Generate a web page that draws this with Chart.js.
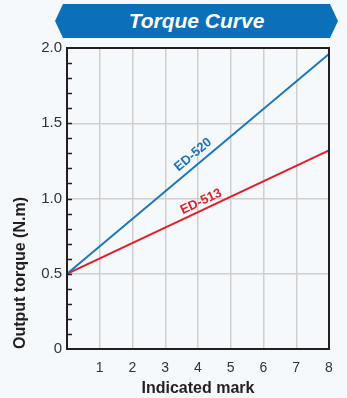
<!DOCTYPE html>
<html>
<head>
<meta charset="utf-8">
<script src="https://cdn.jsdelivr.net/npm/chart.js@4"></script>
<style>
  html, body { margin: 0; padding: 0; background: #f5f9fc; }
  #wrap { position: relative; width: 347px; height: 398px; }
  #banner {
    position: absolute; left: 55px; top: 4px; width: 283px; height: 34px;
    background: #0b6fba;
    clip-path: polygon(8px 0, 275px 0, 283px 17px, 275px 34px, 8px 34px, 0 17px);
    color: #fff; font: italic bold 21px "Liberation Sans", Arial, sans-serif;
    text-align: center; line-height: 34px;
  }
  canvas { position: absolute; left: 0; top: 0; }
</style>
</head>
<body>
<div id="wrap">
  <div id="banner">Torque Curve</div>
  <canvas id="myChart" width="347" height="398"></canvas>
</div>
<script>
// valeurs
const markX = [0, 8];
const ed520 = [0.5, 1.96];
const ed513 = [0.5, 1.32];
const yLabels = ['0', '0.5', '1.0', '1.5', '2.0'];
const lineNames = ['ED-520', 'ED-513'];

const fontFamily = '"Liberation Sans", Arial, sans-serif';

// petits traits de graduation à l'intérieur de l'axe Y + étiquettes des courbes
const extrasPlugin = {
  id: 'extras',
  afterDraw(chart) {
    const ctx = chart.ctx;
    const x = chart.scales.x, y = chart.scales.y;
    const area = chart.chartArea;
    ctx.save();
    // bordure noire
    ctx.strokeStyle = '#231f20';
    ctx.lineWidth = 2;
    ctx.strokeRect(area.left, area.top, area.right - area.left, area.bottom - area.top);
    // minor ticks
    ctx.lineWidth = 1.5;
    for (let i = 1; i < 20; i++) {
      const py = Math.round(y.getPixelForValue(i / 10)) + 0.5;
      ctx.beginPath();
      ctx.moveTo(area.left, py);
      ctx.lineTo(area.left + 5, py);
      ctx.stroke();
    }
    // étiquettes le long des lignes
    const sets = [ed520, ed513];
    const colors = ['#1a75bc', '#e3202a'];
    const at = [4.05, 4.2];
    const offs = [10, 8];
    sets.forEach((d, k) => {
      const x0 = x.getPixelForValue(markX[0]), y0 = y.getPixelForValue(d[0]);
      const x1 = x.getPixelForValue(markX[1]), y1 = y.getPixelForValue(d[1]);
      const ang = Math.atan2(y1 - y0, x1 - x0);
      const v = d[0] + (d[1] - d[0]) * (at[k] - markX[0]) / (markX[1] - markX[0]);
      const px = x.getPixelForValue(at[k]), py = y.getPixelForValue(v);
      ctx.save();
      ctx.translate(px + Math.sin(ang) * offs[k], py - Math.cos(ang) * offs[k]);
      ctx.rotate(ang);
      ctx.fillStyle = colors[k];
      ctx.font = 'bold 13px ' + fontFamily;
      ctx.textAlign = 'center';
      ctx.textBaseline = 'middle';
      ctx.fillText(lineNames[k], 0, 0);
      ctx.restore();
    });
    ctx.restore();
  }
};

const ctx = document.getElementById('myChart').getContext('2d');
new Chart(ctx, {
  type: 'line',
  data: {
    datasets: [
      {
        label: lineNames[0],
        data: markX.map((m, i) => ({ x: m, y: ed520[i] })),
        borderColor: '#1a75bc',
        borderWidth: 2,
        pointRadius: 0
      },
      {
        label: lineNames[1],
        data: markX.map((m, i) => ({ x: m, y: ed513[i] })),
        borderColor: '#e3202a',
        borderWidth: 2,
        pointRadius: 0
      }
    ]
  },
  options: {
    responsive: false,
    animation: false,
    layout: { padding: { left: 0, top: 48, right: 18, bottom: 0 } },
    plugins: { legend: { display: false }, tooltip: { enabled: false } },
    scales: {
      x: {
        type: 'linear',
        min: 0,
        max: 8,
        afterFit: s => { s.height = 49; },
        border: { display: false },
        grid: {
          color: c => (c.tick.value > 0 && c.tick.value < 8) ? '#cfcfcf' : 'transparent',
          lineWidth: 1.5,
          drawTicks: false
        },
        ticks: {
          stepSize: 1,
          padding: 11,
          color: '#333',
          font: { family: fontFamily, size: 14 },
          callback: v => v === 0 ? '' : String(v)
        },
        title: {
          display: true,
          text: 'Indicated mark',
          color: '#231f20',
          font: { family: fontFamily, size: 16, weight: 'bold' },
          padding: { top: 0, bottom: 0 }
        }
      },
      y: {
        min: 0,
        max: 2,
        afterFit: s => { s.width = 67; },
        border: { display: false },
        grid: {
          color: c => (c.tick.value > 0 && c.tick.value < 2) ? '#cfcfcf' : 'transparent',
          lineWidth: 1.5,
          drawTicks: false
        },
        ticks: {
          stepSize: 0.5,
          padding: 5,
          color: '#333',
          font: { family: fontFamily, size: 15 },
          callback: (v, i) => yLabels[i]
        },
        title: {
          display: true,
          text: 'Output torque (N.m)',
          align: 'start',
          color: '#231f20',
          font: { family: fontFamily, size: 16, weight: 'bold' },
          padding: { top: 11, bottom: 6 }
        }
      }
    }
  },
  plugins: [extrasPlugin]
});
</script>
</body>
</html>
